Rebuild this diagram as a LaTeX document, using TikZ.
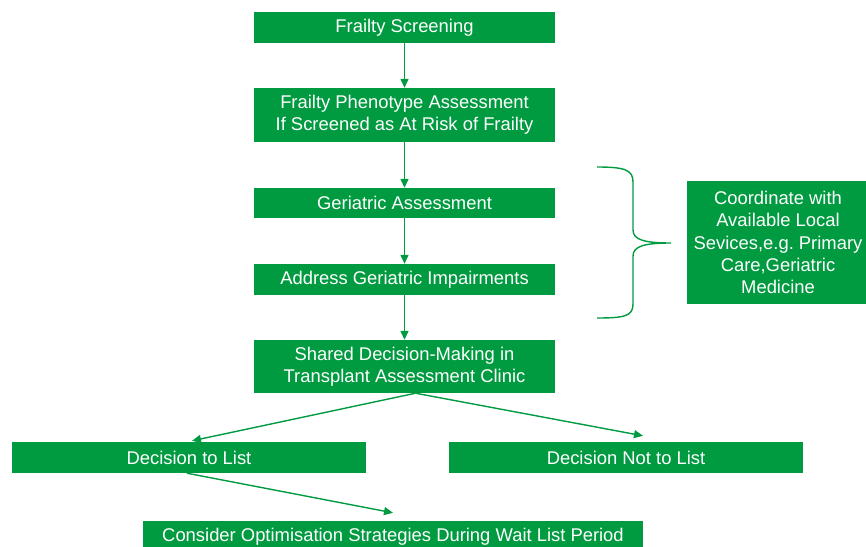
\documentclass[tikz,border=0pt]{standalone}
\usepackage{fontspec}
\setmainfont{Liberation Sans}
\usetikzlibrary{arrows.meta}
\definecolor{frgreen}{RGB}{0,155,64}
\frenchspacing

\begin{document}
\begin{tikzpicture}[x=1pt,y=-1pt,
  box/.style={fill=frgreen,text=white,align=center,inner sep=0pt,
    font=\fontsize{18.4}{22.4}\selectfont},
  arr/.style={draw=frgreen,line width=1.4pt,
    -{Triangle[length=9pt,width=8pt,fill=frgreen]}}]
\clip (0,0) rectangle (866,546);
\node[box,minimum width=301,minimum height=31] (scr) at (404.5,27.5) {Frailty Screening};
\node[box,minimum width=301,minimum height=54] (phen) at (404.5,115) {Frailty Phenotype Assessment\\If Screened as At Risk of Frailty};
\node[box,minimum width=301,minimum height=30] (ger) at (404.5,203) {Geriatric Assessment};
\node[box,minimum width=301,minimum height=31] (addr) at (404.5,279.5) {Address Geriatric Impairments};
\node[box,minimum width=301,minimum height=53] (sdm) at (404.5,366.5) {Shared Decision-Making in\\Transplant Assessment Clinic};
\node[box,minimum width=354,minimum height=31] (list) at (189,457.5) {Decision to List};
\node[box,minimum width=354,minimum height=31] (nolist) at (626,457.5) {Decision Not to List};
\node[box,minimum width=500,minimum height=31] (opt) at (393,536.5) {Consider Optimisation Strategies During Wait List Period};
\node[box,minimum width=182,minimum height=123] (coord) at (778,242.5) {Coordinate with\\Available Local\\Sevices,e.g. Primary\\Care,Geriatric\\Medicine};
\draw[arr] (scr) -- (phen);
\draw[arr] (phen) -- (ger);
\draw[arr] (ger) -- (addr);
\draw[arr] (addr) -- (sdm);
\draw[arr] ([xshift=11pt]sdm.south) -- ([xshift=3pt,yshift=1pt]list.north);
\draw[arr] ([xshift=11pt]sdm.south) -- ([xshift=17pt,yshift=6pt]nolist.north);
\draw[arr] ([xshift=-2pt]list.south) -- ([yshift=8pt]opt.north);
% brace
\draw[frgreen,line width=1.4pt] (597,167) .. controls (625,167) and (633,170) .. (633,182)
  -- (633,230) .. controls (633,240) and (645,243) .. (671,243)
  .. controls (645,243) and (633,246) .. (633,256) -- (633,304)
  .. controls (633,316) and (625,318) .. (597,318);
\end{tikzpicture}
\end{document}
